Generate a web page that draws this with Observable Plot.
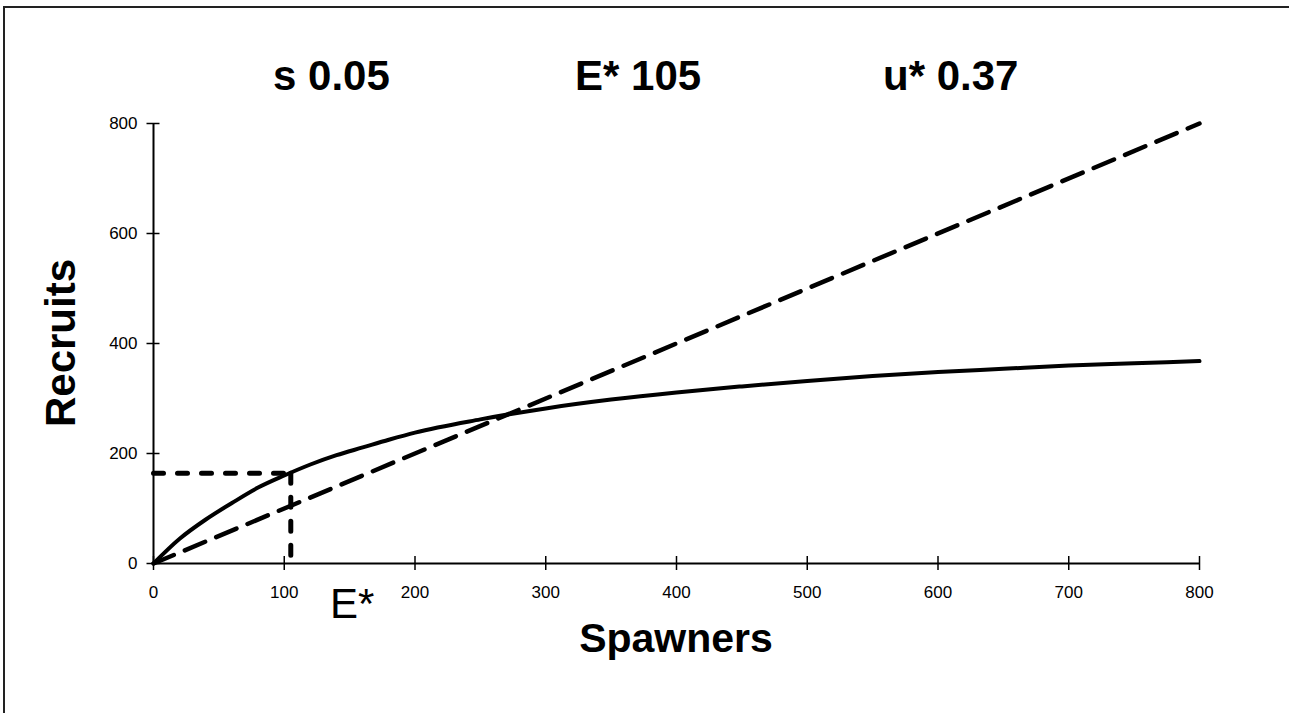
<!DOCTYPE html>
<html>
<head>
<meta charset="utf-8">
<script src="https://cdn.jsdelivr.net/npm/d3@7"></script>
<script src="https://cdn.jsdelivr.net/npm/@observablehq/plot@0.6"></script>
<style>
  html, body { margin: 0; padding: 0; background: #fff; }
  #chart svg { display: block; }
</style>
</head>
<body>
<div id="chart"></div>
<script>
// ---- data ----
const spawners = [0, 20, 40, 60, 80, 100, 120, 140, 160, 180, 200, 250, 300, 350, 400, 450, 500, 550, 600, 650, 700, 750, 800];
const recruits = [0, 45, 80, 110, 138, 160, 180, 197, 211, 225, 238, 262, 282, 298, 311, 322, 332, 341, 348, 354, 360, 364, 368];
const replacementS = [0, 800];
const replacementR = [0, 800];
const eStar = 105;
const rAtEStar = 164;
const xTicks = [0, 100, 200, 300, 400, 500, 600, 700, 800];
const yTicks = [0, 200, 400, 600, 800];
const titles = ["s 0.05", "E* 105", "u* 0.37"];
const xLabel = "Spawners";
const yLabel = "Recruits";
const eStarLabel = "E*";

const curve = spawners.map((s, i) => ({s, r: recruits[i]}));
const repl = replacementS.map((s, i) => ({s, r: replacementR[i]}));
const hDot = [{s: 0, r: rAtEStar}, {s: eStar, r: rAtEStar}];
const vDot = [{s: eStar, r: rAtEStar}, {s: eStar, r: 0}];

const W = 1289, H = 713;
const plot = Plot.plot({
  width: W, height: H,
  marginLeft: 153, marginRight: 90, marginTop: 123, marginBottom: 150,
  x: {domain: [0, 800]},
  y: {domain: [0, 800]},
  style: {fontFamily: "'Liberation Sans', Arial, sans-serif", fontSize: "17px", color: "#000", background: "#fff"},
  marks: [
    Plot.ruleY([0], {stroke: "#000", strokeWidth: 2}),
    Plot.ruleX([0], {stroke: "#000", strokeWidth: 2}),
    Plot.axisX({ticks: xTicks, tickSize: 14, dy: -7, tickFormat: () => "", label: null, stroke: "#000", strokeWidth: 1.5}),
    Plot.axisX({ticks: xTicks, tickSize: 0, tickPadding: 22, label: null, fill: "#000", fontSize: 17}),
    Plot.axisY({ticks: yTicks, tickSize: 13, dx: 6.5, tickFormat: () => "", label: null, stroke: "#000", strokeWidth: 1.5}),
    Plot.axisY({ticks: yTicks, tickSize: 0, tickPadding: 16, label: null, fill: "#000", fontSize: 17}),
    Plot.line(hDot, {x: "s", y: "r", stroke: "#000", strokeWidth: 5, strokeDasharray: "10,14"}),
    Plot.line(vDot, {x: "s", y: "r", stroke: "#000", strokeWidth: 5, strokeDasharray: "10,14"}),
    Plot.line(repl, {x: "s", y: "r", stroke: "#000", strokeWidth: 4.5, strokeDasharray: "22,12", strokeLinecap: "round"}),
    Plot.line(curve, {x: "s", y: "r", stroke: "#000", strokeWidth: 4, curve: "monotone-x", strokeLinecap: "round"})
  ]
});
document.getElementById("chart").appendChild(plot);

const svg = d3.select(plot);
const font = "'Liberation Sans', Arial, sans-serif";
// frame border
svg.append("path").attr("d", `M4,${H} V7 H${W}`).attr("fill", "none").attr("stroke", "#222").attr("stroke-width", 2);
// titles
const titleX = [273, 575, 883];
titles.forEach((t, i) => {
  svg.append("text").attr("x", titleX[i]).attr("y", 90).attr("text-anchor", "start").attr("font-family", font)
    .attr("font-weight", "bold").attr("font-size", 42).attr("fill", "#000").text(t);
});
// axis labels
svg.append("text").attr("x", 676).attr("y", 652).attr("text-anchor", "middle")
  .attr("font-family", font).attr("font-weight", "bold").attr("font-size", 41).attr("fill", "#000").text(xLabel);
svg.append("text").attr("transform", "translate(75,343) rotate(-90)").attr("text-anchor", "middle")
  .attr("font-family", font).attr("font-weight", "bold").attr("font-size", 42).attr("fill", "#000").text(yLabel);
// E* annotation
svg.append("text").attr("x", 330).attr("y", 618).attr("text-anchor", "start").attr("font-family", font)
  .attr("font-size", 42).attr("fill", "#000").text(eStarLabel);
</script>
</body>
</html>
